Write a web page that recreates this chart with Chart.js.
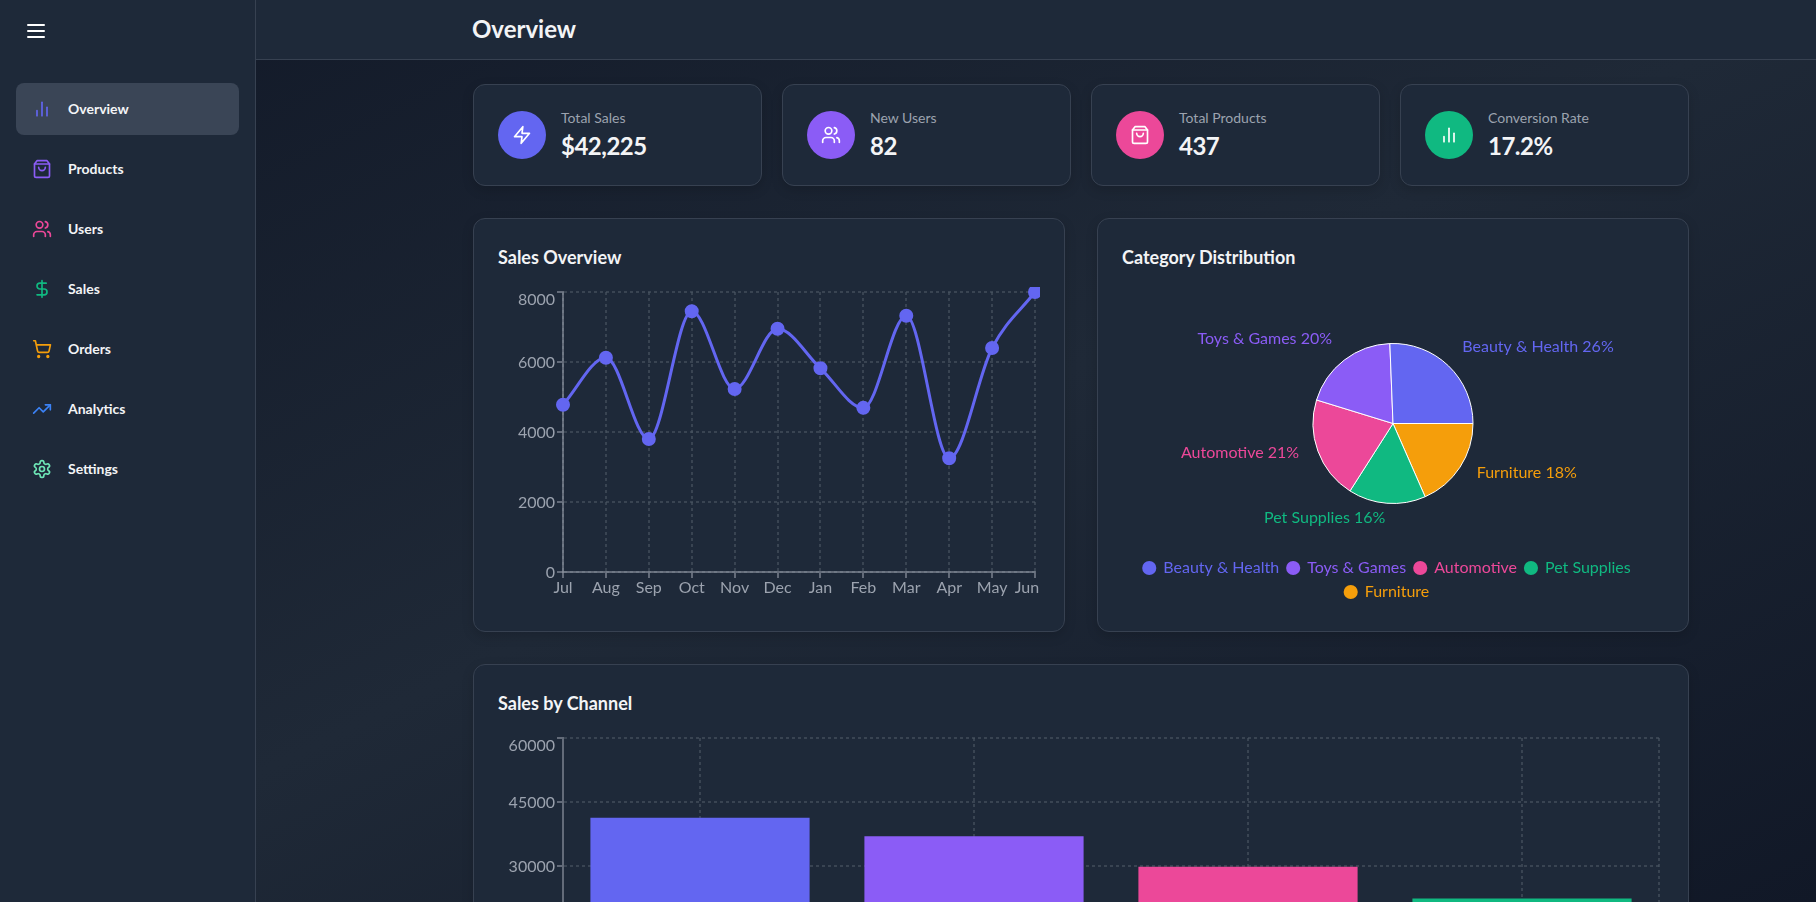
<!DOCTYPE html>
<html><head><meta charset="utf-8">
<script src="https://cdn.jsdelivr.net/npm/chart.js@4/dist/chart.umd.min.js"></script>
<style>
*{box-sizing:border-box}
html,body{margin:0;width:1816px;height:902px;overflow:hidden;background:#111827;font-family:"Lato",sans-serif;color:#f3f4f6}
#bg{position:absolute;inset:0;background:linear-gradient(to bottom right,#111827,#1f2937,#111827)}
.abs{position:absolute}
.panel{background:#1e2939}
.card{position:absolute;background:#1e2939;border:1px solid #374151;border-radius:12px;box-shadow:0 4px 12px rgba(0,0,0,.15)}
.nav{position:absolute;left:16px;width:223px;height:52px;border-radius:8px}
.nav svg{position:absolute;left:16px;top:16px}
.nav span{position:absolute;left:52px;top:0;line-height:52px;font-size:14px;font-weight:700;white-space:nowrap}
.ic{position:absolute;left:24px;top:26px;width:48px;height:48px;border-radius:50%}
.ic svg{position:absolute;left:14px;top:14px}
.lb{position:absolute;left:87px;top:23px;font-size:14px;line-height:20px;color:#9ca3af;white-space:nowrap}
.vl{position:absolute;left:87px;top:45px;font-size:24px;line-height:32px;font-weight:700;letter-spacing:-.5px;white-space:nowrap}
.tt{position:absolute;left:24px;top:24px;font-size:18px;line-height:28px;font-weight:700;white-space:nowrap}
canvas{position:absolute;display:block}
svg{fill:none;stroke-width:2;stroke-linecap:round;stroke-linejoin:round}
</style></head><body>
<div id="bg"></div>
<div class="abs panel" style="left:0;top:0;width:256px;height:902px;border-right:1px solid #374151" id="side"></div>
<div class="abs panel" style="left:256px;top:0;width:1560px;height:60px;border-bottom:1px solid #374151"></div>
<div class="abs" style="left:472px;top:11px;font-size:24px;line-height:36px;font-weight:700" id="head">Overview</div>
<div id="kpis"></div>
<div class="card" style="left:473px;top:218px;width:592px;height:414px"><div class="tt">Sales Overview</div></div>
<div class="card" style="left:1097px;top:218px;width:592px;height:414px"><div class="tt">Category Distribution</div></div>
<div class="card" style="left:473px;top:664px;width:1216px;height:414px"><div class="tt">Sales by Channel</div></div>
<canvas id="line" width="542" height="320" style="left:498px;top:287px"></canvas>
<canvas id="pie" width="542" height="320" style="left:1122px;top:295px"></canvas>
<canvas id="bar" width="1166" height="320" style="left:498px;top:733px"></canvas>
<script>
// ---- data ----
const months = ['Jul','Aug','Sep','Oct','Nov','Dec','Jan','Feb','Mar','Apr','May','Jun'];
const monthlySales = [4780,6120,3800,7450,5230,6950,5820,4690,7320,3250,6400,8000];
const categories = ['Beauty & Health','Toys & Games','Automotive','Pet Supplies','Furniture'];
const categoryShare = [25.6,19.6,20.7,15.6,18.4];
const categoryColors = ['#6366F1','#8B5CF6','#EC4899','#10B981','#F59E0B'];
const channels = ['Website','Mobile App','Marketplace','Social Media'];
const channelSales = [41300,37000,29800,22400];
const channelColors = ['#6366F1','#8B5CF6','#EC4899','#10B981'];
const navItems = ['Overview','Products','Users','Sales','Orders','Analytics','Settings'];
const navColors = ['#6366F1','#8B5CF6','#EC4899','#10B981','#F59E0B','#3B82F6','#6EE7B7'];
const kpiLabels = ['Total Sales','New Users','Total Products','Conversion Rate'];
const kpiValues = ['$42,225','82','437','17.2%'];
const kpiColors = ['#6366F1','#8B5CF6','#EC4899','#10B981'];

const I = {
 bars:'<line x1="18" y1="20" x2="18" y2="10"/><line x1="12" y1="20" x2="12" y2="4"/><line x1="6" y1="20" x2="6" y2="14"/>',
 bag:'<path d="M6 2 3 6v14a2 2 0 0 0 2 2h14a2 2 0 0 0 2-2V6l-3-4Z"/><path d="M3 6h18"/><path d="M16 10a4 4 0 0 1-8 0"/>',
 users:'<path d="M16 21v-2a4 4 0 0 0-4-4H6a4 4 0 0 0-4 4v2"/><circle cx="9" cy="7" r="4"/><path d="M22 21v-2a4 4 0 0 0-3-3.87"/><path d="M16 3.13a4 4 0 0 1 0 7.75"/>',
 dollar:'<line x1="12" y1="2" x2="12" y2="22"/><path d="M17 5H9.5a3.5 3.5 0 0 0 0 7h5a3.5 3.5 0 0 1 0 7H6"/>',
 cart:'<circle cx="8" cy="21" r="1"/><circle cx="19" cy="21" r="1"/><path d="M2.05 2.05h2l2.66 12.42a2 2 0 0 0 2 1.58h9.78a2 2 0 0 0 1.95-1.57l1.65-7.43H5.12"/>',
 trend:'<polyline points="22 7 13.5 15.5 8.5 10.5 2 17"/><polyline points="16 7 22 7 22 13"/>',
 gear:'<path d="M12.22 2h-.44a2 2 0 0 0-2 2v.18a2 2 0 0 1-1 1.73l-.43.25a2 2 0 0 1-2 0l-.15-.08a2 2 0 0 0-2.73.73l-.22.38a2 2 0 0 0 .73 2.73l.15.1a2 2 0 0 1 1 1.72v.51a2 2 0 0 1-1 1.74l-.15.09a2 2 0 0 0-.73 2.73l.22.38a2 2 0 0 0 2.73.73l.15-.08a2 2 0 0 1 2 0l.43.25a2 2 0 0 1 1 1.73V20a2 2 0 0 0 2 2h.44a2 2 0 0 0 2-2v-.18a2 2 0 0 1 1-1.73l.43-.25a2 2 0 0 1 2 0l.15.08a2 2 0 0 0 2.73-.73l.22-.39a2 2 0 0 0-.73-2.73l-.15-.08a2 2 0 0 1-1-1.74v-.5a2 2 0 0 1 1-1.74l.15-.09a2 2 0 0 0 .73-2.73l-.22-.38a2 2 0 0 0-2.73-.73l-.15.08a2 2 0 0 1-2 0l-.43-.25a2 2 0 0 1-1-1.73V4a2 2 0 0 0-2-2z"/><circle cx="12" cy="12" r="3"/>',
 zap:'<polygon points="13 2 3 14 12 14 11 22 21 10 12 10 13 2"/>',
 menu:'<line x1="4" y1="12" x2="20" y2="12"/><line x1="4" y1="6" x2="20" y2="6"/><line x1="4" y1="18" x2="20" y2="18"/>'
};
const svg=(k,s,c)=>`<svg width="${s}" height="${s}" viewBox="0 0 24 24" style="stroke:${c}">${I[k]}</svg>`;
const navIcons=['bars','bag','users','dollar','cart','trend','gear'];
let h=`<div class="abs" style="left:24px;top:19px;width:24px;height:24px">${svg('menu',24,'#fff')}</div>`;
navItems.forEach((n,i)=>{h+=`<div class="nav" style="top:${83+60*i}px;${i==0?'background:#3a4556':''}">${svg(navIcons[i],20,navColors[i])}<span>${n}</span></div>`});
document.getElementById('side').innerHTML=h;
const kIcons=['zap','users','bag','bars'];
document.getElementById('kpis').innerHTML=kpiLabels.map((l,i)=>`<div class="card" style="left:${473+309*i}px;top:84px;width:289px;height:102px"><div class="ic" style="background:${kpiColors[i]}">${svg(kIcons[i],20,'#fff')}</div><div class="lb">${l}</div><div class="vl">${kpiValues[i]}</div></div>`).join('');

// ---- Chart.js ----
Chart.defaults.animation=false;
const FONT='"Lato",sans-serif';
Chart.defaults.font.family=FONT;
Chart.defaults.font.size=16;
// 2px half-strength lines reproduce the reference's lines that straddle a pixel boundary
const GRID='rgba(75,85,99,.62)', AXIS='rgba(156,163,175,.55)', TICK='#9CA3AF';

function fixedAxes(height){return {
 y:s=>{s.width=60;s.paddingTop=s.paddingBottom=0;},
 x:s=>{s.height=height;s.paddingLeft=s.paddingRight=0;}
};}
// keeps the library's tick labels but nudges them the way the reference does
function nudgeY(s){ if(s._nudged)return; s._nudged=1; const o=s._computeLabelItems;
 s._computeLabelItems=function(a){const it=o.call(this,a);it.forEach(t=>{const tr=t.options.translation;tr[1]+=(tr[1]-this.top<2)?8:1;});return it;};}
function nudgeX(s){ if(s._nudged)return; s._nudged=1; const o=s._computeLabelItems;
 s._computeLabelItems=function(a){const it=o.call(this,a);it.forEach(t=>{const tr=t.options.translation;if(this.right-tr[0]<2)tr[0]-=8;});return it;};}
const gridOpts={color:GRID,lineWidth:2,tickColor:AXIS,tickLength:6,tickWidth:2};
const borderOpts={color:AXIS,width:2,dash:[3,3]};
const plain=v=>String(v);

new Chart(document.getElementById('line'),{
 type:'line',
 data:{labels:months,datasets:[{data:monthlySales,borderColor:'#6366F1',backgroundColor:'#6366F1',borderWidth:3,
  pointRadius:6,pointBorderWidth:2,pointBackgroundColor:'#6366F1',pointBorderColor:'#6366F1',cubicInterpolationMode:'monotone',clip:false}]},
 options:{responsive:false,layout:{autoPadding:false,padding:{left:5,right:5,top:5,bottom:5}},
  plugins:{legend:{display:false},tooltip:{enabled:false}},
  scales:{
   x:{offset:false,grid:gridOpts,border:borderOpts,ticks:{color:TICK,autoSkip:false,maxRotation:0,padding:0},afterFit:fixedAxes(30).x,afterUpdate:nudgeX},
   y:{min:0,max:8000,grid:gridOpts,border:borderOpts,ticks:{color:TICK,stepSize:2000,padding:2,callback:plain},afterFit:fixedAxes(30).y,afterUpdate:nudgeY}
  }}
});

const pieLabels={id:'pieLabels',
 afterLayout(c){c.legend.left-=6;c.legend.right-=6;},
 afterDatasetsDraw(c){
 const ctx=c.ctx,meta=c.getDatasetMeta(0),tot=meta.total;
 ctx.save();ctx.font=`16px ${FONT}`;ctx.textBaseline='middle';
 meta.data.forEach((a,i)=>{const m=(a.startAngle+a.endAngle)/2,R=a.outerRadius+20;
  const x=a.x+R*Math.cos(m),y=a.y+R*Math.sin(m);
  ctx.fillStyle=c.data.datasets[0].backgroundColor[i];
  ctx.textAlign=x>a.x?'left':'right';
  ctx.fillText(`${c.data.labels[i]} ${(c.data.datasets[0].data[i]/tot*100).toFixed(0)}%`,x,y-5);
 });ctx.restore();}};
new Chart(document.getElementById('pie'),{
 type:'pie',plugins:[pieLabels],
 data:{labels:[...categories].reverse(),datasets:[{data:[...categoryShare].reverse(),backgroundColor:[...categoryColors].reverse(),borderColor:'#fff',borderWidth:1,radius:80}]},
 options:{responsive:false,rotation:90,layout:{padding:{bottom:5}},
  plugins:{tooltip:{enabled:false},
   legend:{position:'bottom',reverse:true,labels:{font:{size:16},padding:8,usePointStyle:true,boxWidth:12,boxHeight:10,
    generateLabels:c=>c.data.labels.map((t,i)=>({text:t,fillStyle:c.data.datasets[0].backgroundColor[i],strokeStyle:'transparent',lineWidth:0,fontColor:c.data.datasets[0].backgroundColor[i],pointStyle:'circle',index:i}))}}}}
});

const edge={id:'edge',beforeDatasetsDraw(c){const a=c.chartArea,x=Math.round(a.right),g=c.ctx;g.save();g.strokeStyle=GRID;g.lineWidth=2;g.setLineDash([3,3]);g.beginPath();g.moveTo(x,a.top);g.lineTo(x,a.bottom);g.stroke();g.restore();}};
new Chart(document.getElementById('bar'),{
 type:'bar',plugins:[edge],
 data:{labels:channels,datasets:[{data:channelSales,backgroundColor:channelColors,categoryPercentage:.8,barPercentage:1}]},
 options:{responsive:false,layout:{autoPadding:false,padding:{left:5,right:5,top:5,bottom:29}},
  plugins:{legend:{display:false},tooltip:{enabled:false}},
  scales:{
   x:{grid:{...gridOpts,offset:false},border:borderOpts,ticks:{color:TICK,padding:2},afterFit:fixedAxes(30).x},
   y:{min:0,max:60000,grid:gridOpts,border:borderOpts,ticks:{color:TICK,stepSize:15000,padding:2,callback:plain},afterFit:fixedAxes(30).y,afterUpdate:nudgeY}
  }}
});
</script></body></html>
